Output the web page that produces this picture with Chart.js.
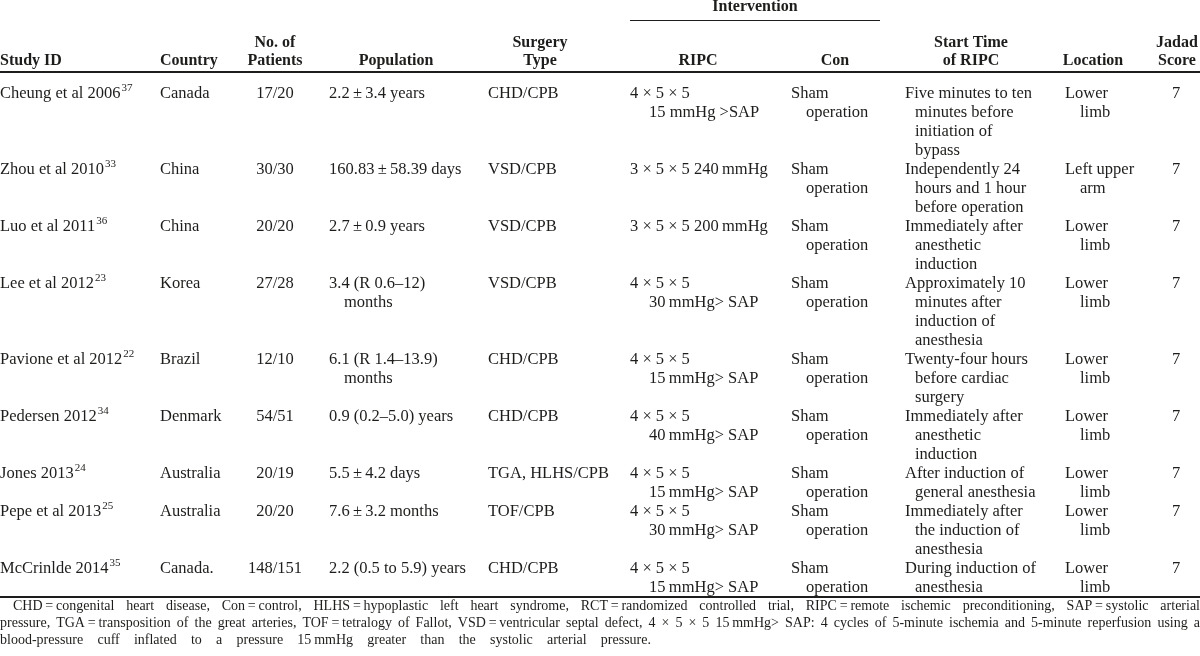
<!DOCTYPE html>
<html><head><meta charset="utf-8">
<script src="https://cdn.jsdelivr.net/npm/chart.js@4"></script>
<style>html,body{margin:0;padding:0;background:#fff;overflow:hidden}#wrap{width:1200px;height:656px}</style>
</head><body><div id="wrap"><canvas id="c" width="1200" height="656"></canvas></div>
<script>
// ---------- DATA ----------
const headerTop = ["", "", "No. of", "", "Surgery", "", "", "Start Time", "", "Jadad"];
const headerBottom = ["Study ID", "Country", "Patients", "Population", "Type", "RIPC", "Con", "of RIPC", "Location", "Score"];
const groupHeader = "Intervention";
const studyIds = ["Cheung et al 2006", "Zhou et al 2010", "Luo et al 2011", "Lee et al 2012", "Pavione et al 2012", "Pedersen 2012", "Jones 2013", "Pepe et al 2013", "McCrinlde 2014"];
const refs = ["37", "33", "36", "23", "22", "34", "24", "25", "35"];
const countries = ["Canada", "China", "China", "Korea", "Brazil", "Denmark", "Australia", "Australia", "Canada."];
const patients = ["17/20", "30/30", "20/20", "27/28", "12/10", "54/51", "20/19", "20/20", "148/151"];
const population = [
  ["2.2\u2009\u00b1\u20093.4 years"], ["160.83\u2009\u00b1\u200958.39 days"], ["2.7\u2009\u00b1\u20090.9 years"],
  ["3.4 (R 0.6\u201312)", "months"], ["6.1 (R 1.4\u201313.9)", "months"], ["0.9 (0.2\u20135.0) years"],
  ["5.5\u2009\u00b1\u20094.2 days"], ["7.6\u2009\u00b1\u20093.2 months"], ["2.2 (0.5 to 5.9) years"]];
const surgery = ["CHD/CPB", "VSD/CPB", "VSD/CPB", "VSD/CPB", "CHD/CPB", "CHD/CPB", "TGA, HLHS/CPB", "TOF/CPB", "CHD/CPB"];
const ripc = [
  ["4 \u00d7 5 \u00d7 5", "15 mmHg >SAP"], ["3 \u00d7 5 \u00d7 5 240\u2009mmHg"], ["3 \u00d7 5 \u00d7 5 200\u2009mmHg"],
  ["4 \u00d7 5 \u00d7 5", "30\u2009mmHg> SAP"], ["4 \u00d7 5 \u00d7 5", "15\u2009mmHg> SAP"], ["4 \u00d7 5 \u00d7 5", "40\u2009mmHg> SAP"],
  ["4 \u00d7 5 \u00d7 5", "15\u2009mmHg> SAP"], ["4 \u00d7 5 \u00d7 5", "30\u2009mmHg> SAP"], ["4 \u00d7 5 \u00d7 5", "15\u2009mmHg> SAP"]];
const control = Array(9).fill(["Sham", "operation"]);
const startTime = [
  ["Five minutes to ten", "minutes before", "initiation of", "bypass"],
  ["Independently 24", "hours and 1 hour", "before operation"],
  ["Immediately after", "anesthetic", "induction"],
  ["Approximately 10", "minutes after", "induction of", "anesthesia"],
  ["Twenty-four hours", "before cardiac", "surgery"],
  ["Immediately after", "anesthetic", "induction"],
  ["After induction of", "general anesthesia"],
  ["Immediately after", "the induction of", "anesthesia"],
  ["During induction of", "anesthesia"]];
const locations = [["Lower", "limb"], ["Left upper", "arm"], ["Lower", "limb"], ["Lower", "limb"], ["Lower", "limb"], ["Lower", "limb"], ["Lower", "limb"], ["Lower", "limb"], ["Lower", "limb"]];
const jadad = [7, 7, 7, 7, 7, 7, 7, 7, 7];
const footnote = [
  "CHD\u2009=\u2009congenital heart disease, Con\u2009=\u2009control, HLHS\u2009=\u2009hypoplastic left heart syndrome, RCT\u2009=\u2009randomized controlled trial, RIPC\u2009=\u2009remote ischemic preconditioning, SAP\u2009=\u2009systolic arterial",
  "pressure, TGA\u2009=\u2009transposition of the great arteries, TOF\u2009=\u2009tetralogy of Fallot, VSD\u2009=\u2009ventricular septal defect, 4 \u00d7 5 \u00d7 5 15\u2009mmHg> SAP: 4 cycles of 5-minute ischemia and 5-minute reperfusion using a",
  "blood-pressure cuff inflated to a pressure 15\u2009mmHg greater than the systolic arterial pressure."];

// ---------- LAYOUT / STYLE ----------
const FONT = '"Liberation Serif", "Times New Roman", serif';
const BODY_SIZE = 16.5, HEAD_SIZE = 16, SUP_SIZE = 11, FOOT_SIZE = 14;
const INK = '#1d1d1b';
// column anchors in x-scale units
const colX = [0, 160, 275, 329, 488, 630, 791, 905, 1065, 1176];
const colIndent = [14, 0, 0, 15, 0, 19, 15, 10, 15, 0];
const colAlign = ['left', 'left', 'center', 'left', 'left', 'left', 'left', 'left', 'left', 'center'];
const headX = [0, 160, 275, 396, 540, 698, 835, 971, 1093, 1177];
const headAlign = ['left', 'left', 'center', 'center', 'center', 'center', 'center', 'center', 'center', 'center'];
const groupSpan = [630, 880];
const FOOT_INDENT = 13, FOOT_LAST_END = 651;

// row line counts -> starting line index of each row
const rowCells = studyIds.map((s, i) => [[s], [countries[i]], [patients[i]], population[i], [surgery[i]], ripc[i], control[i], startTime[i], locations[i], [String(jadad[i])]]);
const rowLines = rowCells.map(r => Math.max(...r.map(c => c.length)));
const rowStart = [];
rowLines.reduce((acc, n, i) => { rowStart[i] = acc; return acc + n; }, 0);
const totalLines = rowLines.reduce((a, b) => a + b, 0);

// y scale in "line" units: line 0 is the first body line
const LINE_PX = 19, FIRST_PX = 94, H = 656;
const yMin = -FIRST_PX / LINE_PX, yMax = (H - FIRST_PX) / LINE_PX;
const yIntervention = -4.58, yHeadTop = -2.7, yHeadBottom = -1.77, yGroupRule = -3.9, yHeadRule = -1.16;
const yBottomRule = totalLines - 0.55;
const yFoot = [totalLines - 0.03, totalLines + 0.86, totalLines + 1.75];

function drawTable(chart) {
  const ctx = chart.ctx, xs = chart.scales.x, ys = chart.scales.y;
  const X = v => xs.getPixelForValue(v), Y = v => ys.getPixelForValue(v);
  ctx.save();
  ctx.fillStyle = INK; ctx.strokeStyle = INK; ctx.textBaseline = 'middle';
  // header
  ctx.font = `bold ${HEAD_SIZE}px ${FONT}`;
  ctx.textAlign = 'center';
  ctx.fillText(groupHeader, X((groupSpan[0] + groupSpan[1]) / 2), Y(yIntervention));
  headerTop.forEach((t, c) => { if (!t) return; ctx.textAlign = headAlign[c]; ctx.fillText(t, X(headX[c]), Y(yHeadTop)); });
  headerBottom.forEach((t, c) => { ctx.textAlign = headAlign[c]; ctx.fillText(t, X(headX[c]), Y(yHeadBottom)); });
  // rules
  const hline = (y, x0, x1, w) => { const py = Math.round(Y(y)) + (w % 2 ? 0.5 : 0); ctx.lineWidth = w; ctx.beginPath(); ctx.moveTo(X(x0), py); ctx.lineTo(X(x1), py); ctx.stroke(); };
  hline(yGroupRule, groupSpan[0], groupSpan[1], 1);
  hline(yHeadRule, 0, 1200, 2);
  hline(yBottomRule, 0, 1200, 2);
  // body
  ctx.font = `${BODY_SIZE}px ${FONT}`;
  rowCells.forEach((cells, r) => {
    cells.forEach((lines, c) => {
      lines.forEach((t, k) => {
        ctx.textAlign = colAlign[c];
        const x = X(colX[c]) + (k > 0 ? colIndent[c] : 0);
        const y = Y(rowStart[r] + k);
        ctx.fillText(t, x, y);
        if (c === 0 && k === 0) {
          const w = ctx.measureText(t).width;
          ctx.font = `${SUP_SIZE}px ${FONT}`; ctx.textAlign = 'left';
          ctx.fillText(refs[r], x + w + 1, y - 6);
          ctx.font = `${BODY_SIZE}px ${FONT}`;
        }
      });
    });
  });
  // footnote (justified)
  ctx.font = `${FOOT_SIZE}px ${FONT}`; ctx.textAlign = 'left';
  const left = X(0), right = X(1200);
  footnote.forEach((line, i) => {
    const start = left + (i === 0 ? FOOT_INDENT : 0);
    const end = i === footnote.length - 1 ? X(FOOT_LAST_END) : right;
    const y = Y(yFoot[i]);
    const words = line.split(' ');
    const wsum = words.reduce((a, w) => a + ctx.measureText(w).width, 0);
    const gap = (end - start - wsum) / (words.length - 1);
    let x = start;
    words.forEach(w => { ctx.fillText(w, x, y); x += ctx.measureText(w).width + gap; });
  });
  ctx.restore();
}

new Chart(document.getElementById('c'), {
  type: 'scatter',
  data: { datasets: [{ data: jadad.map((v, i) => ({ x: colX[9], y: rowStart[i] })), pointRadius: 0, showLine: false }] },
  options: {
    responsive: false, animation: false, events: [],
    layout: { padding: 0 },
    plugins: { legend: { display: false }, tooltip: { enabled: false } },
    scales: {
      x: { type: 'linear', display: false, min: 0, max: 1200 },
      y: { type: 'linear', display: false, reverse: true, min: yMin, max: yMax }
    }
  },
  plugins: [{ id: 'table', afterDraw: drawTable }]
});
</script></body></html>
